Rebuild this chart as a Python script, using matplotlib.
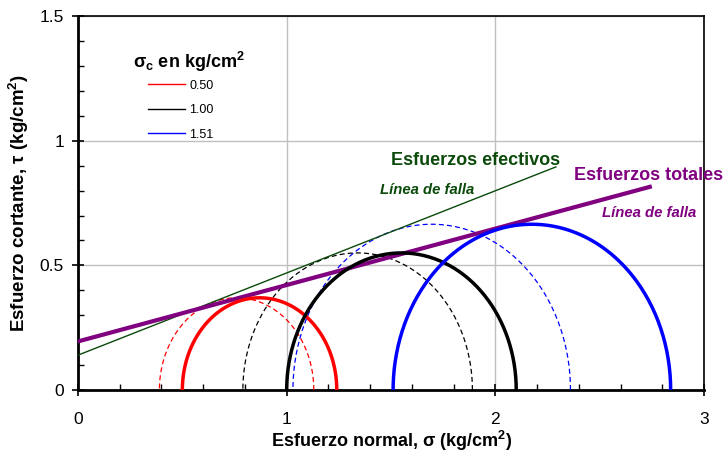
import numpy as np
import matplotlib
matplotlib.use('Agg')
import matplotlib.pyplot as plt
from matplotlib.lines import Line2D
from matplotlib.ticker import MultipleLocator

plt.rcParams['font.family'] = ['Liberation Sans', 'DejaVu Sans']

# Mohr circles (kg/cm2)
labels = ['0.50', '1.00', '1.51']
colors = ['#ff0000', '#000000', '#0000ff']
s3_tot = [0.50, 1.00, 1.51]
s1_tot = [1.24, 2.10, 2.84]
s3_eff = [0.39, 0.79, 1.03]
s1_eff = [1.13, 1.89, 2.36]

# failure envelopes: [x0, x1], [y0, y1]
tot_x = [0.0, 2.74]
tot_y = [0.195, 0.815]
eff_x = [0.0, 2.29]
eff_y = [0.14, 0.895]

fig = plt.figure(figsize=(7.25, 4.53), dpi=100)
ax = fig.add_axes([0.1076, 0.139, 0.8635, 0.8255])

theta = np.linspace(0, np.pi, 200)

for a, b, c in zip(s3_eff, s1_eff, colors):
    cen = (a + b) / 2
    r = (b - a) / 2
    ax.plot(cen + r * np.cos(theta), r * np.sin(theta), color=c, lw=0.9,
            ls=(0, (4, 2.5)), zorder=3)

ax.plot(eff_x, eff_y, color='#0b4a0b', lw=1.0, zorder=4)
ax.plot(tot_x, tot_y, color='#800080', lw=3.0, zorder=4)

for a, b, c in zip(s3_tot, s1_tot, colors):
    cen = (a + b) / 2
    r = (b - a) / 2
    ax.plot(cen + r * np.cos(theta), r * np.sin(theta), color=c, lw=2.5,
            zorder=5)

ax.set_xlim(0, 3)
ax.set_ylim(0, 1.5)
ax.set_xticks([0, 1, 2, 3])
ax.set_xticklabels(['0', '1', '2', '3'])
ax.set_yticks([0, 0.5, 1, 1.5])
ax.set_yticklabels(['0', '0.5', '1', '1.5'])
ax.xaxis.set_minor_locator(MultipleLocator(0.2))
ax.yaxis.set_minor_locator(MultipleLocator(0.1))
ax.tick_params(which='major', direction='inout', length=8, width=1.2,
               labelsize=12.5, pad=6)
ax.tick_params(axis='x', which='major', pad=12)
ax.tick_params(which='minor', direction='in', length=4, width=1)
ax.grid(True, which='major', color='#c0c0c0', lw=1)
ax.set_axisbelow(True)
for s in ax.spines.values():
    s.set_linewidth(1.2)
ax.spines['bottom'].set_linewidth(2)
ax.spines['left'].set_linewidth(2)

ax.set_xlabel('Esfuerzo normal, σ (kg/cm$^\\mathregular{2}$)', fontsize=13,
              fontweight='bold', labelpad=1)
ax.set_ylabel('Esfuerzo cortante, τ (kg/cm$^\\mathregular{2}$)', fontsize=13.5,
              fontweight='bold', labelpad=6)

ax.text(1.905, 0.92, 'Esfuerzos efectivos', color='#0b4a0b', fontsize=13,
        fontweight='bold', ha='center', va='center')
ax.text(1.672, 0.803, 'Línea de falla', color='#0b4a0b', fontsize=10.7,
        fontweight='bold', style='italic', ha='center', va='center')
ax.text(2.732, 0.861, 'Esfuerzos totales', color='#800080', fontsize=13,
        fontweight='bold', ha='center', va='center', clip_on=False)
ax.text(2.735, 0.71, 'Línea de falla', color='#800080', fontsize=10.7,
        fontweight='bold', style='italic', ha='center', va='center')

# legend title and entries
ax.text(0.533, 1.317, 'σ$_\\mathregular{c}$ en kg/cm$^\\mathregular{2}$',
        fontsize=13, fontweight='bold', ha='center', va='center')
handles = [Line2D([], [], color=c, lw=1) for c in colors]
ax.legend(handles, labels, loc='upper left', bbox_to_anchor=(0.1116, 0.83),
          frameon=False, fontsize=9, borderpad=0, borderaxespad=0,
          handlelength=3.0, handletextpad=0.3, labelspacing=1.0)

fig.savefig('out.png', dpi=100)
